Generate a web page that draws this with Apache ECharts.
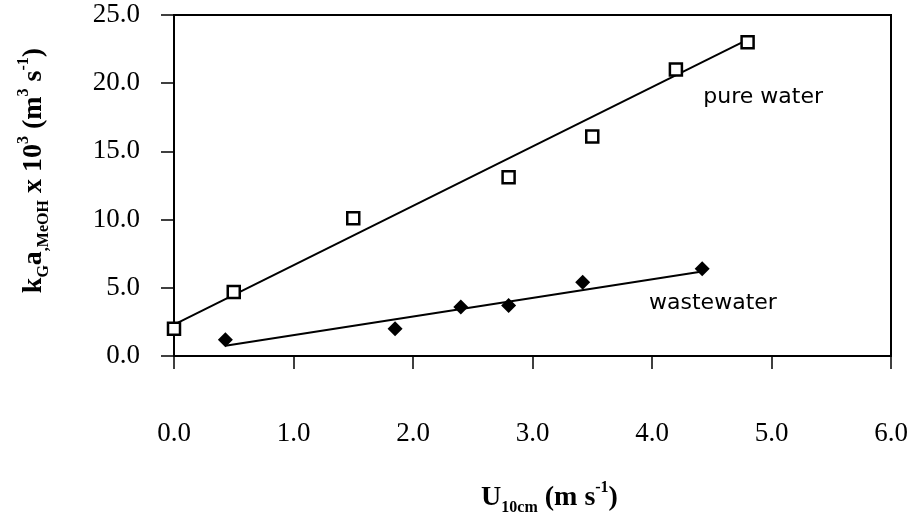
<!DOCTYPE html>
<html>
<head>
<meta charset="utf-8">
<script src="https://cdn.jsdelivr.net/npm/echarts@6/dist/echarts.min.js"></script>
<style>
  html, body { margin: 0; padding: 0; background: #fff; }
  #chart { width: 908px; height: 515px; }
</style>
</head>
<body>
<div id="chart"></div>
<script>
// pure water (open squares)
const pureX = [0.0, 0.5, 1.5, 2.8, 3.5, 4.2, 4.8];
const pureY = [2.0, 4.7, 10.1, 13.1, 16.1, 21.0, 23.0];
// wastewater (filled diamonds)
const wasteX = [0.43, 1.85, 2.4, 2.8, 3.42, 4.42];
const wasteY = [1.2, 2.0, 3.6, 3.7, 5.4, 6.4];
// fitted lines (end points)
const pureFitX = [0.0, 4.8];
const pureFitY = [2.3, 23.2];
const wasteFitX = [0.43, 4.42];
const wasteFitY = [0.75, 6.2];
const xTicks = [0, 1, 2, 3, 4, 5, 6];
const yTicks = [0, 5, 10, 15, 20, 25];

const pairs = (xs, ys) => xs.map((x, i) => [x, ys[i]]);

var chart = echarts.init(document.getElementById('chart'));

const serif = 'Liberation Serif';
const titleRich = {
  b: { fontFamily: serif, fontWeight: 'bold', fontSize: 28, color: '#000', lineHeight: 36, verticalAlign: 'middle' },
  sub: { fontFamily: serif, fontWeight: 'bold', fontSize: 16, color: '#000', lineHeight: 16, verticalAlign: 'bottom' },
  sup: { fontFamily: serif, fontWeight: 'bold', fontSize: 16, color: '#000', lineHeight: 16, verticalAlign: 'top' }
};

const tickLabel = {
  fontFamily: serif,
  fontSize: 27,
  color: '#000',
  formatter: v => v.toFixed(1)
};

const noteStyle = {
  show: true,
  fontFamily: 'DejaVu Sans',
  fontSize: 22,
  color: '#000',
  position: 'inside'
};

const options = {
  animation: false,
  grid: {
    left: 174, right: 17, top: 15, bottom: 159,
    outerBoundsMode: 'none',
    containLabel: false,
    show: true, borderColor: '#000', borderWidth: 2
  },
  xAxis: {
    type: 'value',
    min: xTicks[0], max: xTicks[xTicks.length - 1], interval: 1,
    axisLine: { lineStyle: { color: '#000', width: 2 } },
    axisTick: { show: true, inside: false, length: 13, lineStyle: { color: '#000', width: 1.5 } },
    axisLabel: Object.assign({ margin: 64 }, tickLabel),
    splitLine: { show: false },
    name: '{b|U}{sub|10cm}{b| (m s}{sup|-1}{b|)}',
    nameLocation: 'middle',
    nameGap: 124,
    nameTextStyle: { rich: titleRich, padding: [0, 0, 0, 34] }
  },
  yAxis: {
    type: 'value',
    min: yTicks[0], max: yTicks[yTicks.length - 1], interval: 5,
    axisLine: { lineStyle: { color: '#000', width: 2 } },
    axisTick: { show: true, inside: false, length: 13, lineStyle: { color: '#000', width: 1.5 } },
    axisLabel: Object.assign({ margin: 34 }, tickLabel),
    splitLine: { show: false },
    name: '{b|k}{sub|G}{b|a}{sub|,MeOH}{b| x 10}{sup|3}{b| (m}{sup|3}{b| s}{sup|-1}{b|)}',
    nameLocation: 'middle',
    nameRotate: 90,
    nameGap: 122,
    nameTextStyle: { rich: titleRich, padding: [0, 0, 0, 30] }
  },
  series: [
    {
      name: 'pure water fit',
      type: 'line',
      data: pairs(pureFitX, pureFitY),
      symbol: 'none',
      lineStyle: { color: '#000', width: 2 },
      z: 1
    },
    {
      name: 'wastewater fit',
      type: 'line',
      data: pairs(wasteFitX, wasteFitY),
      symbol: 'none',
      lineStyle: { color: '#000', width: 2 },
      z: 1
    },
    {
      name: 'pure water',
      type: 'scatter',
      data: pairs(pureX, pureY),
      symbol: 'rect',
      symbolSize: 12,
      itemStyle: { color: '#fff', borderColor: '#000', borderWidth: 2.5, opacity: 1 },
      z: 3,
      markPoint: {
        symbol: 'rect', symbolSize: 1,
        itemStyle: { color: 'transparent' },
        label: Object.assign({ formatter: 'pure water' }, noteStyle),
        data: [{ coord: [4.93, 19.0] }]
      }
    },
    {
      name: 'wastewater',
      type: 'scatter',
      data: pairs(wasteX, wasteY),
      symbol: 'diamond',
      symbolSize: 15,
      itemStyle: { color: '#000', opacity: 1 },
      z: 3,
      markPoint: {
        symbol: 'rect', symbolSize: 1,
        itemStyle: { color: 'transparent' },
        label: Object.assign({ formatter: 'wastewater' }, noteStyle),
        data: [{ coord: [4.51, 3.9] }]
      }
    }
  ]
};

chart.setOption(options, true);
</script>
</body>
</html>
